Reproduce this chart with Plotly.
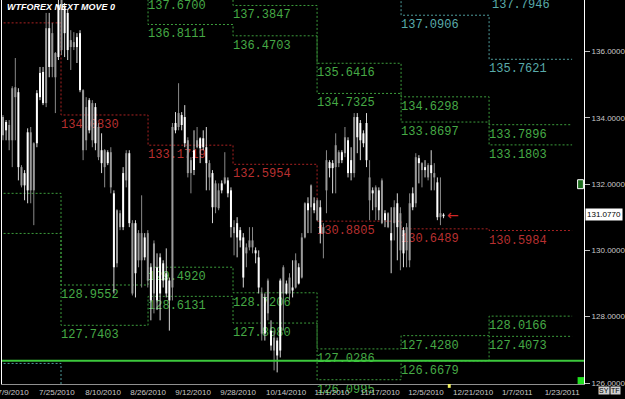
import plotly.graph_objects as go

# ---------------- data ----------------
opens = [134.02,133.62,133.78,134.89,134.92,132.51,132.51,131.96,131.81,133.56,
         133.23,133.23,134.62,134.44,136.70,135.53,136.55,135.95,135.83,137.70,
         136.55,136.04,136.34,136.28,136.13,134.83,134.83,134.32,133.62,134.44,
         133.23,133.72,132.63,133.02,132.63,132.96,129.49,131.21,131.12,130.70,
         132.93,130.82,130.82,129.31,130.52,130.52,129.79,130.52,128.49,130.21,
         128.49,128.70,129.09,128.70,128.49,133.72,133.62,134.14,133.78,133.23,
         133.32,132.72,132.42,133.32,133.08,133.11,132.63,132.63,131.30,132.02,
         131.81,131.81,132.20,131.72,130.70,130.70,130.39,130.30,129.18,130.09,
         130.30,130.30,129.91,128.88,128.70,127.49,129.09,127.13,127.37,126.83,
         126.98,129.49,128.70,129.18,128.79,129.70,129.00,130.39,131.42,131.21,
         131.96,131.21,131.51,130.52,130.70,132.72,132.48,132.48,133.17,132.96,
         132.72,133.41,132.33,132.33,134.02,133.41,133.32,133.23,132.72,132.20,
         131.72,131.90,131.21,132.11,130.91,131.12,130.30,131.30,130.70,131.12,
         129.91,130.70,131.42,131.30,132.81,132.63,132.63,132.42,132.57,132.33,
         132.33,131.00,131.12,131.03]
highs = [134.08,133.93,133.93,134.95,135.80,134.89,132.57,132.42,133.68,133.72,
         133.26,134.83,135.53,135.53,137.16,137.16,136.86,135.98,137.55,137.90,
         137.46,137.25,136.64,136.58,136.55,136.64,134.86,134.62,134.59,134.53,
         134.44,133.84,133.53,133.05,133.02,133.11,131.81,131.24,131.21,132.51,
         133.02,133.02,130.91,130.91,130.61,131.66,130.52,130.61,129.61,130.30,
         129.91,129.91,129.70,130.06,129.18,133.84,134.17,135.04,134.17,134.38,
         133.41,132.81,133.62,133.72,133.41,133.62,133.72,132.72,132.42,132.11,
         132.02,132.11,132.96,132.20,131.90,130.91,131.00,130.70,130.52,130.21,
         130.70,130.70,130.09,130.00,128.88,128.70,129.15,127.89,127.58,127.37,
         129.15,129.55,129.09,129.31,129.70,129.91,129.61,130.52,131.45,131.60,
         131.99,131.60,131.57,131.51,130.82,133.02,132.72,132.72,133.53,133.02,
         133.02,133.72,133.41,133.11,134.14,134.14,133.93,133.62,134.14,132.72,
         131.90,131.96,131.90,132.17,131.21,131.15,131.30,131.51,131.72,131.30,
         130.70,130.82,131.72,131.90,132.93,132.87,132.66,132.72,132.63,133.02,
         132.63,132.20,132.20,131.12]
lows = [133.32,133.32,133.02,132.51,133.32,132.11,131.90,131.51,131.42,131.42,
        130.76,133.11,134.53,134.38,134.32,135.22,135.22,134.14,135.74,135.89,
        135.83,135.74,135.44,136.04,135.65,134.77,132.72,133.02,133.53,133.11,
        133.02,132.72,132.33,131.90,132.57,131.72,128.70,129.49,130.61,130.61,
        131.90,130.70,128.64,128.58,129.49,128.88,129.70,128.88,127.89,128.10,
        128.20,127.89,128.88,128.58,127.58,128.49,133.53,133.62,133.62,133.11,
        132.20,131.72,132.27,133.08,132.63,133.02,131.81,131.81,130.82,131.12,
        131.21,131.72,131.99,131.60,130.39,129.85,129.79,130.09,128.88,129.49,
        130.00,129.91,129.61,128.70,127.28,127.28,127.89,126.98,126.38,126.32,
        126.77,127.58,128.67,128.49,128.58,128.85,128.97,129.15,130.36,130.52,
        130.52,131.12,130.88,130.21,129.76,131.12,132.20,131.72,131.72,132.51,
        132.63,132.81,132.20,132.11,132.20,132.93,132.72,133.11,132.51,130.91,
        131.21,130.91,130.91,130.79,130.70,130.67,129.31,130.30,129.70,129.40,
        129.49,129.49,129.49,131.21,131.30,132.02,131.90,132.20,132.11,131.81,
        131.81,130.91,130.76,130.97]
closes = [133.47,133.87,133.32,133.32,134.62,134.77,131.96,132.33,133.56,131.81,
          131.81,134.74,135.35,135.38,134.44,136.70,135.53,135.22,137.40,136.04,
          137.34,137.16,136.13,136.13,136.43,136.55,133.02,133.32,134.53,133.32,
          134.32,132.81,133.02,132.51,132.96,131.90,131.72,129.61,130.70,132.33,
          132.11,132.93,128.70,130.82,129.70,129.70,130.39,129.09,129.49,128.70,
          129.49,129.79,129.61,129.31,129.09,128.88,133.84,133.72,134.08,134.02,
          132.33,132.33,133.02,133.11,133.38,133.38,133.11,132.20,132.33,131.30,
          131.27,132.02,132.02,132.11,131.81,130.52,130.82,130.61,130.39,129.91,
          130.09,130.09,130.00,129.79,127.49,128.58,128.10,127.58,126.98,127.28,
          129.09,128.70,129.00,128.70,128.88,128.88,129.49,129.18,130.39,131.42,
          131.30,131.42,130.91,131.30,130.52,131.81,132.66,132.63,132.51,132.63,
          132.96,132.93,133.32,132.72,132.33,134.02,133.84,133.53,133.84,131.51,
          131.81,131.30,131.81,130.82,131.12,130.70,130.52,130.82,131.42,130.00,
          130.61,130.00,129.70,131.72,131.42,132.78,132.42,132.51,132.20,132.57,
          132.20,132.05,131.00,131.077]

tick_bars = [3.25, 17.5, 32.5, 47.1, 61.7, 76.3, 91.9, 106.8, 122.4, 137.3, 152.6, 166.9, 181.5]
tick_labels = ["7/9/2010", "7/25/2010", "8/10/2010", "8/26/2010", "9/12/2010", "9/28/2010",
               "10/14/2010", "11/1/2010", "11/17/2010", "12/5/2010", "12/21/2010",
               "1/7/2011", "1/23/2011"]

# period (month) starts in bar units: Jul, Aug, Sep, Oct, Nov, Dec, Jan, end
period_starts = [-5, 18.83, 47.08, 74.67, 101.95, 129.22, 157.79, 184.74]
red_levels        = [136.86, 134.0830, 133.1719, 132.5954, 130.8805, 130.6489, 130.5984]
upper_green_top   = [None, 139.00, 137.6700, 137.3847, 135.6416, 134.6298, 133.7896]
upper_green_bot   = [None, 138.20, 136.8111, 136.4703, 134.7325, 133.8697, 133.1803]
lower_green_top   = [131.72, 128.9552, 129.4920, 128.7206, 127.0286, 127.4280, 128.0166]
lower_green_bot   = [130.51, 127.7403, 128.6131, 127.8080, 126.0995, 126.6679, 127.4073]
teal_top          = [None, None, None, None, 139.30, 138.20, 137.7946]
teal_bot          = [None, None, None, None, 138.60, 137.0906, 135.7621]
teal_low          = [126.59, 125.40, None, None, None, None, None]

price_ticks = [126, 128, 130, 132, 134, 136]
last_price = 131.077
support_level = 126.6679
title_text = "WTFOREX NEXT MOVE 0"

# ---------------- styles ----------------
RED = "#a82222"
RED_TXT = "#b83030"
GREEN = "#3c9c3c"
GREEN_TXT = "#46aa46"
TEAL = "#4e9c9c"
TEAL_TXT = "#5aabab"
X_RANGE = [-0.325, 188.6]
Y_RANGE = [125.97, 137.55]
LABEL_DROP = 0.12   # vertical offset of level labels below their line (price units)
LABEL_FONT = dict(family="Liberation Mono", size=12)

fig = go.Figure()


def step_line(levels):
    xs, ys = [], []
    for k, lv in enumerate(levels):
        if lv is None:
            if xs and xs[-1] is not None:
                xs.append(None); ys.append(None)
            continue
        xs += [period_starts[k], period_starts[k + 1]]
        ys += [lv, lv]
    return xs, ys


groups = [
    (red_levels, RED, RED_TXT),
    (upper_green_top, GREEN, GREEN_TXT),
    (upper_green_bot, GREEN, GREEN_TXT),
    (lower_green_top, GREEN, GREEN_TXT),
    (lower_green_bot, GREEN, GREEN_TXT),
    (teal_top, TEAL, TEAL_TXT),
    (teal_bot, TEAL, TEAL_TXT),
    (teal_low, TEAL, TEAL_TXT),
]

for levels, lc, tc in groups:
    xs, ys = step_line(levels)
    fig.add_trace(go.Scatter(x=xs, y=ys, mode="lines",
                             line=dict(color=lc, width=1, dash="2px,2px"),
                             hoverinfo="skip", showlegend=False))

span = Y_RANGE[1] - Y_RANGE[0]
for levels, lc, tc in groups:
    lx, ly, lt = [], [], []
    for k, lv in enumerate(levels):
        if k == 0 or lv is None:
            continue
        yy = lv - LABEL_DROP
        if Y_RANGE[0] <= yy <= Y_RANGE[1]:
            lx.append(period_starts[k]); ly.append(yy); lt.append(f"{lv:.4f}")
        elif Y_RANGE[1] < yy <= Y_RANGE[1] + 0.25:
            # anchor just above the visible range: label partly visible at the top
            fig.add_annotation(x=period_starts[k], yref="paper", y=(yy - Y_RANGE[0]) / span,
                               xanchor="left", yanchor="top", xshift=1, showarrow=False,
                               text=f"{lv:.4f}", font=dict(**LABEL_FONT, color=tc))
    if lx:
        fig.add_trace(go.Scatter(x=lx, y=ly, text=lt, mode="text",
                                 textposition="bottom right",
                                 textfont=dict(**LABEL_FONT, color=tc),
                                 cliponaxis=False, hoverinfo="skip", showlegend=False))

# candles
n = len(opens)
def wick_xy(up):
    X, Y = [], []
    for i in range(n):
        if (closes[i] >= opens[i]) == up:
            X += [i, i, None]; Y += [lows[i], highs[i], None]
    return X, Y

def body_xy(up):
    X, Y = [], []
    for i in range(n):
        if (closes[i] >= opens[i]) == up:
            lo, hi = min(opens[i], closes[i]), max(opens[i], closes[i])
            if hi - lo < 0.03:
                m = (hi + lo) / 2; lo, hi = m - 0.015, m + 0.015
            X += [i, i, None]; Y += [lo, hi, None]
    return X, Y

for up, wc, bc in [(False, "#8a8a8a", "#9a9a9a"), (True, "#d8d8d8", "#ffffff")]:
    wx, wy = wick_xy(up)
    fig.add_trace(go.Scatter(x=wx, y=wy, mode="lines", line=dict(color=wc, width=1),
                             hoverinfo="skip", showlegend=False))
    bx, by = body_xy(up)
    fig.add_trace(go.Scatter(x=bx, y=by, mode="lines", line=dict(color=bc, width=2),
                             hoverinfo="skip", showlegend=False))

# solid support line
fig.add_shape(type="line", xref="paper", x0=0, x1=1, y0=support_level, y1=support_level,
              line=dict(color="#3cc83c", width=2))

# decorations
fig.add_shape(type="rect", xref="paper", x0=0.989, x1=1.0, yref="paper", y0=0, y1=0.018,
              fillcolor="#22e022", line=dict(width=0))
fig.add_shape(type="rect", xref="paper", x0=0.989, x1=0.999, yref="y", y0=131.86, y1=132.13,
              fillcolor="#1c6c1c", line=dict(color="#ffffff", width=1))
fig.add_shape(type="rect", xref="paper", x0=0.766, x1=0.771, yref="paper", y0=-0.01, y1=0.0,
              fillcolor="#f0f060", line=dict(width=0))

fig.add_annotation(xref="paper", yref="paper", x=0, y=1, xanchor="left", yanchor="top",
                   xshift=3, yshift=0, showarrow=False,
                   text=f"<b><i>{title_text}</i></b>",
                   font=dict(family="Liberation Sans", size=9, color="#ffffff"))
fig.add_annotation(xref="paper", yref="y", x=1, y=last_price, xanchor="left", xshift=1,
                   showarrow=False, text=f"{last_price:.4f}", bgcolor="#ffffff",
                   borderpad=1, font=dict(family="Liberation Sans", size=8, color="#000000"))
fig.add_annotation(x=146.0, y=last_price, showarrow=False, text="\u2190",
                   font=dict(family="DejaVu Sans", size=14, color="#d02828"))
for lbl, dx in [("SY", 14), ("TF", 26)]:
    fig.add_annotation(xref="paper", yref="paper", x=1, y=0, xanchor="left", yanchor="top",
                       xshift=dx, yshift=-2, showarrow=False, text=lbl, bgcolor="#d0d0d0",
                       borderpad=0, font=dict(family="Liberation Sans", size=7, color="#000000"))

fig.update_layout(
    width=625, height=399,
    margin=dict(l=2, r=41, t=0, b=15, autoexpand=False),
    paper_bgcolor="#000000", plot_bgcolor="#000000",
    showlegend=False,
    xaxis=dict(range=X_RANGE, showgrid=False, zeroline=False, automargin=False,
               tickvals=tick_bars, ticktext=tick_labels, ticks="",
               ticklabeloverflow="allow",
               tickfont=dict(family="Liberation Sans", size=8, color="#c8c8c8"),
               showline=True, linecolor="#909090", linewidth=1),
    yaxis=dict(range=Y_RANGE, side="right", showgrid=False, zeroline=False, automargin=False,
               tickvals=price_ticks, ticktext=[f"{v:.4f}" for v in price_ticks],
               ticks="outside", ticklen=5, tickcolor="#c0c0c0",
               tickfont=dict(family="Liberation Sans", size=8, color="#c8c8c8"),
               showline=True, linecolor="#ffffff", linewidth=1, mirror=True),
)

fig.write_html("out.html")
